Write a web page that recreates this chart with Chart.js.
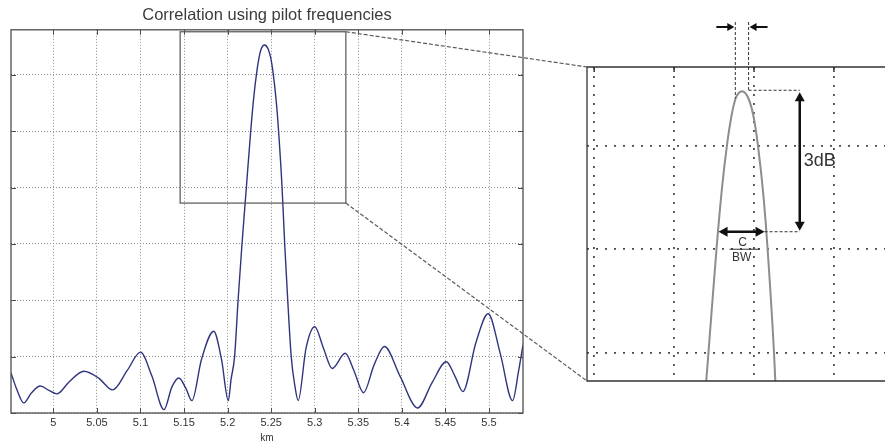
<!DOCTYPE html>
<html>
<head>
<meta charset="utf-8">
<title>Correlation using pilot frequencies</title>
<script src="https://cdn.jsdelivr.net/npm/chart.js@4.4.1/dist/chart.umd.min.js"></script>
<style>
  html, body { margin: 0; padding: 0; background: #fff; overflow: hidden; }
  #wrap { position: relative; width: 885px; height: 444px; overflow: hidden; }
  #wrap canvas { position: absolute; left: 0; top: 0; }
</style>
</head>
<body>
<div id="wrap">
  <canvas id="corrChart" width="900" height="444"></canvas>
  <canvas id="zoomChart" width="900" height="444"></canvas>
</div>
<script>
// Correlation output against range (km)
const rangeKm = [
    4.9514, 4.958, 4.966, 4.975, 4.985, 4.995, 5.004, 5.018, 5.035, 5.052,
    5.068, 5.085, 5.100, 5.113, 5.127, 5.136, 5.144, 5.152, 5.159, 5.170,
    5.184, 5.193, 5.2008, 5.204, 5.208, 5.212, 5.2165, 5.2215, 5.2265, 5.2300,
    5.2330, 5.2360, 5.2385, 5.2425, 5.2465, 5.2495, 5.2525, 5.2560, 5.2585, 5.2625,
    5.2655, 5.2690, 5.2730, 5.2770, 5.2810, 5.290, 5.300, 5.310, 5.320, 5.335,
    5.345, 5.356, 5.368, 5.380, 5.398, 5.418, 5.435, 5.451, 5.461, 5.470,
    5.485, 5.499, 5.513, 5.527, 5.534, 5.539
];
const corrLevel = [
    0.71, 0.42, 0.18, 0.36, 0.48, 0.40, 0.34, 0.55, 0.74, 0.62,
    0.41, 0.76, 1.08, 0.66, 0.06, 0.46, 0.62, 0.44, 0.22, 0.95,
    1.45, 0.95, 0.22, 0.60, 1.00, 2.00, 3.00, 4.00, 5.00, 5.60,
    6.00, 6.30, 6.46, 6.53, 6.46, 6.30, 6.00, 5.50, 5.00, 4.00,
    3.00, 2.00, 1.00, 0.50, 0.22, 1.15, 1.53, 1.15, 0.79, 1.06,
    0.75, 0.36, 0.85, 1.18, 0.65, 0.09, 0.55, 0.91, 0.65, 0.38,
    1.25, 1.76, 1.05, 0.22, 0.75, 1.21
];

const kmTicks = [5, 5.05, 5.1, 5.15, 5.2, 5.25, 5.3, 5.35, 5.4, 5.45, 5.5];
const levelTicks = [0, 1, 2, 3, 4, 5, 6];
const kmRange = [4.9514, 5.539];
const levelRange = [0, 6.8];

// region blown up on the right
const zoomKm = [5.1455, 5.3357];
const zoomLevel = [3.725, 6.765];
const zoomKmTicks = [5.15, 5.2, 5.25, 5.3];
const zoomLevelTicks = [4, 5, 6];

// main lobe markings
const peakKm = 5.2425;
const peakLevel = 6.53;
const bwLevel = 5.17;
const bwKm = [5.2278, 5.2566];
const dbArrowKm = 5.2786;
const lobeMarkKm = [5.2383, 5.2466];
const lobeMarkLevel = [6.46, 6.53];

const points = rangeKm.map((km, i) => ({ x: km, y: corrLevel[i] }));
const FONT = 'Liberation Sans, Arial, sans-serif';

const corrFrame = {
    id: 'corrFrame',
    afterDraw(chart) {
        const { ctx, chartArea: a, scales: { x, y } } = chart;
        ctx.save();
        ctx.strokeStyle = '#4d4d4d';
        ctx.lineWidth = 1.3;
        ctx.strokeRect(a.left, a.top, a.right - a.left, a.bottom - a.top);

        // tick marks on the inside of the box
        ctx.beginPath();
        kmTicks.forEach(v => {
            const px = Math.round(x.getPixelForValue(v)) + 0.5;
            ctx.moveTo(px, a.bottom); ctx.lineTo(px, a.bottom - 5);
            ctx.moveTo(px, a.top); ctx.lineTo(px, a.top + 5);
        });
        levelTicks.forEach(v => {
            const py = Math.round(y.getPixelForValue(v)) + 0.5;
            ctx.moveTo(a.left, py); ctx.lineTo(a.left + 5, py);
            ctx.moveTo(a.right, py); ctx.lineTo(a.right - 5, py);
        });
        ctx.lineWidth = 1;
        ctx.stroke();

        // box around the zoomed region
        const x0 = x.getPixelForValue(zoomKm[0]);
        const x1 = x.getPixelForValue(zoomKm[1]);
        const y0 = y.getPixelForValue(zoomLevel[1]);
        const y1 = y.getPixelForValue(zoomLevel[0]);
        ctx.strokeStyle = '#555';
        ctx.lineWidth = 1.2;
        ctx.strokeRect(x0, y0, x1 - x0, y1 - y0);
        ctx.restore();
    }
};

const corrChart = new Chart(document.getElementById('corrChart'), {
    type: 'line',
    data: {
        datasets: [{
            data: points,
            borderColor: '#30347e',
            borderWidth: 1.4,
            pointRadius: 0,
            fill: false,
            cubicInterpolationMode: 'monotone'
        }]
    },
    options: {
        responsive: false,
        animation: false,
        events: [],
        layout: { padding: { left: 11, right: 377, top: 0, bottom: 0 } },
        plugins: {
            legend: { display: false },
            tooltip: { enabled: false },
            title: {
                display: true,
                text: 'Correlation using pilot frequencies',
                color: '#3c3c3c',
                font: { family: FONT, size: 16.5, weight: 'normal', lineHeight: 1.2 },
                padding: { top: 6, bottom: 4 }
            }
        },
        scales: {
            x: {
                type: 'linear',
                min: kmRange[0],
                max: kmRange[1],
                afterBuildTicks: s => { s.ticks = kmTicks.map(v => ({ value: v })); },
                afterFit: s => { s.height = 31; },
                ticks: {
                    color: '#333',
                    font: { family: FONT, size: 11 },
                    padding: 3,
                    maxRotation: 0,
                    autoSkip: false,
                    callback: v => String(+v.toFixed(2))
                },
                grid: { color: '#8c8c8c', lineWidth: 1, drawTicks: false },
                border: { display: false, dash: [1, 2] },
                title: {
                    display: true,
                    text: 'km',
                    color: '#333',
                    font: { family: FONT, size: 10 },
                    padding: { top: 0, bottom: 0 }
                }
            },
            y: {
                type: 'linear',
                min: levelRange[0],
                max: levelRange[1],
                afterBuildTicks: s => { s.ticks = levelTicks.map(v => ({ value: v })); },
                ticks: { display: false },
                grid: { color: '#8c8c8c', lineWidth: 1, drawTicks: false },
                border: { display: false, dash: [1, 2] }
            }
        }
    },
    plugins: [corrFrame]
});

function arrowHead(ctx, x, y, dx, dy, len, half) {
    ctx.beginPath();
    ctx.moveTo(x, y);
    ctx.lineTo(x - dx * len - dy * half, y - dy * len + dx * half);
    ctx.lineTo(x - dx * len + dy * half, y - dy * len - dx * half);
    ctx.closePath();
    ctx.fill();
}

function arrow(ctx, x1, y1, x2, y2, both, width, len, half) {
    const d = Math.hypot(x2 - x1, y2 - y1);
    const dx = (x2 - x1) / d, dy = (y2 - y1) / d;
    ctx.lineWidth = width;
    ctx.setLineDash([]);
    ctx.beginPath();
    ctx.moveTo(both ? x1 + dx * len * 0.8 : x1, both ? y1 + dy * len * 0.8 : y1);
    ctx.lineTo(x2 - dx * len * 0.8, y2 - dy * len * 0.8);
    ctx.stroke();
    arrowHead(ctx, x2, y2, dx, dy, len, half);
    if (both) arrowHead(ctx, x1, y1, -dx, -dy, len, half);
}

function dashed(ctx, x1, y1, x2, y2) {
    ctx.beginPath();
    ctx.moveTo(x1, y1);
    ctx.lineTo(x2, y2);
    ctx.stroke();
}

const zoomFrame = {
    id: 'zoomFrame',
    afterDraw(chart) {
        const { ctx, chartArea: a, scales: { x, y } } = chart;
        ctx.save();

        // frame: top, left and bottom edges
        ctx.strokeStyle = '#333';
        ctx.lineWidth = 1.3;
        ctx.beginPath();
        ctx.moveTo(chart.width, a.top);
        ctx.lineTo(a.left, a.top);
        ctx.lineTo(a.left, a.bottom);
        ctx.lineTo(chart.width, a.bottom);
        ctx.stroke();
        ctx.lineWidth = 1.5;
        ctx.beginPath();
        zoomKmTicks.forEach(v => {
            const px = x.getPixelForValue(v);
            ctx.moveTo(px, a.top); ctx.lineTo(px, a.top + 5);
        });
        ctx.stroke();

        // dashed lines back to the box on the main plot
        const cx = corrChart.scales.x, cy = corrChart.scales.y;
        const bx = cx.getPixelForValue(zoomKm[1]);
        ctx.strokeStyle = '#5a5a5a';
        ctx.lineWidth = 1.2;
        ctx.setLineDash([4, 2]);
        dashed(ctx, bx, cy.getPixelForValue(zoomLevel[1]), a.left, a.top);
        dashed(ctx, bx, cy.getPixelForValue(zoomLevel[0]), a.left, a.bottom);

        // markings on the main lobe
        const pY = y.getPixelForValue(peakLevel);
        const bY = y.getPixelForValue(bwLevel);
        const bL = x.getPixelForValue(bwKm[0]);
        const bR = x.getPixelForValue(bwKm[1]);
        const dX = x.getPixelForValue(dbArrowKm);
        const mL = x.getPixelForValue(lobeMarkKm[0]);
        const mR = x.getPixelForValue(lobeMarkKm[1]);
        const topY = a.top - 45;
        const arrowY = a.top - 40;

        ctx.strokeStyle = '#333';
        ctx.lineWidth = 1;
        ctx.setLineDash([3, 2]);
        dashed(ctx, mL, topY, mL, y.getPixelForValue(lobeMarkLevel[0]));
        dashed(ctx, mR, topY, mR, y.getPixelForValue(lobeMarkLevel[1]));
        dashed(ctx, mR, pY - 1, dX, pY - 1);
        dashed(ctx, bR, bY, dX, bY);

        ctx.strokeStyle = '#111';
        ctx.fillStyle = '#111';
        arrow(ctx, mL - 19, arrowY, mL - 1, arrowY, false, 2, 7, 4);
        arrow(ctx, mR + 19, arrowY, mR + 1, arrowY, false, 2, 7, 4);
        arrow(ctx, dX, pY + 1, dX, bY - 1, true, 2.5, 9, 5);
        arrow(ctx, bL, bY, bR, bY, true, 2.5, 9, 5);

        // labels
        ctx.fillStyle = '#333';
        ctx.textBaseline = 'middle';
        ctx.textAlign = 'left';
        ctx.font = '18px ' + FONT;
        ctx.fillText('3dB', dX + 4, (pY + bY) / 2);

        const mid = (bL + bR) / 2;
        ctx.textAlign = 'center';
        ctx.font = '12px ' + FONT;
        ctx.fillText('C', mid + 1, bY + 11);
        ctx.fillText('BW', mid, bY + 26);
        ctx.strokeStyle = '#333';
        ctx.lineWidth = 1;
        ctx.setLineDash([]);
        dashed(ctx, mid - 12, bY + 17.5, mid + 18, bY + 17.5);

        ctx.restore();
    }
};

const zoomChart = new Chart(document.getElementById('zoomChart'), {
    type: 'line',
    data: {
        datasets: [{
            data: points,
            borderColor: '#8d8d8d',
            borderWidth: 2,
            pointRadius: 0,
            fill: false,
            cubicInterpolationMode: 'monotone'
        }]
    },
    options: {
        responsive: false,
        animation: false,
        events: [],
        layout: { padding: { left: 587, right: 9, top: 67, bottom: 63 } },
        plugins: {
            legend: { display: false },
            tooltip: { enabled: false },
            title: { display: false }
        },
        scales: {
            x: {
                type: 'linear',
                min: zoomKm[0],
                max: zoomKm[1],
                afterBuildTicks: s => { s.ticks = zoomKmTicks.map(v => ({ value: v })); },
                ticks: { display: false },
                grid: { color: '#4a4a4a', lineWidth: 1.8, drawTicks: false },
                border: { display: false, dash: [2, 7] }
            },
            y: {
                type: 'linear',
                min: zoomLevel[0],
                max: zoomLevel[1],
                afterBuildTicks: s => { s.ticks = zoomLevelTicks.map(v => ({ value: v })); },
                ticks: { display: false },
                grid: { color: '#4a4a4a', lineWidth: 1.8, drawTicks: false },
                border: { display: false, dash: [2, 7] }
            }
        }
    },
    plugins: [zoomFrame]
});
</script>
</body>
</html>
